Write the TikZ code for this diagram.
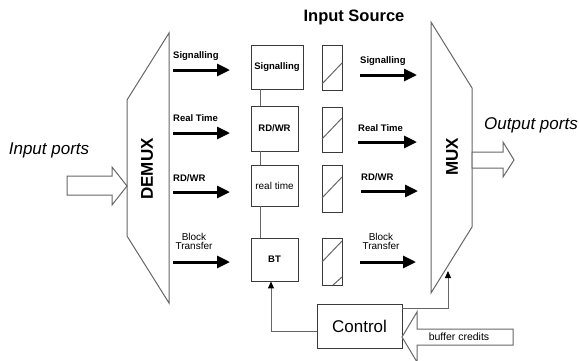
\documentclass[tikz,border=0pt]{standalone}
\usepackage{fontspec}
\setmainfont{Liberation Sans}
\usetikzlibrary{arrows.meta}
\definecolor{edgec}{HTML}{666666}
\definecolor{boxc}{HTML}{3A3A3A}
\tikzset{
  fat/.style={line width=3pt,-{Triangle[length=13pt,width=12pt]}},
  thin/.style={draw=edgec,line width=1pt,-{Triangle[length=7pt,width=6pt,color=black]}},
  link/.style={draw=edgec,line width=1pt},
  outline/.style={draw=edgec,line width=1pt,fill=white,line join=miter},
  unit/.style={draw=boxc,line width=0.9pt,fill=white,inner sep=0pt},
  qbox/.style={draw=boxc,line width=0.9pt,inner sep=0pt,minimum width=20pt},
  bold/.style={font=\fontsize{9.5}{11}\selectfont\bfseries,inner sep=0pt},
  plain/.style={font=\fontsize{10}{11}\selectfont,inner sep=0pt,align=center},
  big/.style={font=\fontsize{17}{19}\selectfont\bfseries,inner sep=0pt,rotate=90},
  port/.style={font=\fontsize{17}{19}\selectfont\itshape,inner sep=0pt},
}
\begin{document}
\begin{tikzpicture}[x=1pt,y=-1pt]
\useasboundingbox (0,0) rectangle (579,360);
\clip (0,0) rectangle (579,360);

% title
\node[font=\fontsize{16.5}{19}\selectfont\bfseries,inner sep=0pt] (title) at (354,17) {Input Source};

% demultiplexer and multiplexer bodies
\draw[outline] (127,100) -- (169,33) -- (169,303) -- (127,236) -- cycle;
\node[big] (demux) at (147,169) {DEMUX};
\draw[outline] (431,22) -- (472,88) -- (472,227) -- (431,293) -- cycle;
\node[big] (mux) at (452,157) {MUX};

% input and output ports (hollow arrows)
\draw[outline] (67,176) -- (112,176) -- (112,167) -- (127,186) -- (112,205) -- (112,195) -- (67,195) -- cycle;
\node[port] (inports) at (49,150) {Input ports};
\draw[outline] (472,152) -- (503,152) -- (503,142) -- (514,160) -- (503,177) -- (503,168) -- (472,168) -- cycle;
\node[port] (outports) at (531,125) {Output ports};

% queue units
\node[unit,minimum width=52pt,minimum height=44pt,bold] (sig) at (277,67) {Signalling};
\node[unit,minimum width=47pt,minimum height=45pt,bold] (rw) at (274.5,128.5) {RD/WR};
\node[unit,minimum width=47pt,minimum height=41pt,plain] (rt) at (274.5,185.5) {real time};
\node[unit,minimum width=47pt,minimum height=43pt,bold] (bt) at (274.5,259.5) {BT};
\coordinate (spine) at (260,0);
\draw[link] (sig.south -| spine) -- (rw.north -| spine);
\draw[link] (rw.south -| spine) -- (rt.north -| spine);
\draw[link] (rt.south -| spine) -- (bt.north -| spine);

% buffer boxes
\node[qbox,minimum height=45pt] (q1) at (332,67.5) {};
\node[qbox,minimum height=45pt] (q2) at (332,129.5) {};
\node[qbox,minimum height=47pt] (q3) at (332,188.5) {};
\node[qbox,minimum height=47pt] (q4) at (332,261.5) {};
\draw[link] (322,84) -- (342,63);
\draw[link] (322,139) -- (342,118);
\draw[link] (322,198) -- (342,177);
\draw[link] (322,262) -- (342,241);
\draw[link] (333,285) -- (342,277);

% classes leaving the demultiplexer
\node[bold,anchor=west] (l1) at (173,56) {Signalling};
\node[bold,anchor=west] (l2) at (173,118) {Real Time};
\node[bold,anchor=west] (l3) at (173,178) {RD/WR};
\node[plain] (l4) at (194,241.5) {Block\\[-1.5pt]Transfer};
\coordinate (a1s) at (173,70);  \coordinate (a1e) at (230,70);
\coordinate (a2s) at (173,133); \coordinate (a2e) at (230,133);
\coordinate (a3s) at (173,192); \coordinate (a3e) at (230,192);
\coordinate (a4s) at (173,262); \coordinate (a4e) at (230,262);
\draw[fat] (a1s) -- (a1e);
\draw[fat] (a2s) -- (a2e);
\draw[fat] (a3s) -- (a3e);
\draw[fat] (a4s) -- (a4e);

% classes entering the multiplexer
\node[bold,anchor=west] (r1) at (360,61) {Signalling};
\node[bold,anchor=west] (r2) at (358,128) {Real Time};
\node[bold,anchor=west] (r3) at (361,177) {RD/WR};
\node[plain] (r4) at (381,241.5) {Block\\[-1.5pt]Transfer};
\coordinate (b1s) at (360,75);  \coordinate (b1e) at (417,75);
\coordinate (b2s) at (358,142); \coordinate (b2e) at (417,142);
\coordinate (b3s) at (361,191); \coordinate (b3e) at (418,191);
\coordinate (b4s) at (360,262); \coordinate (b4e) at (416,262);
\draw[fat] (b1s) -- (b1e);
\draw[fat] (b2s) -- (b2e);
\draw[fat] (b3s) -- (b3e);
\draw[fat] (b4s) -- (b4e);

% control block
\node[unit,minimum width=85pt,minimum height=44pt,font=\fontsize{17}{19}\selectfont] (ctrl) at (359.5,326) {Control};
\draw[thin] ([yshift=-5pt]ctrl.west) -| ([xshift=-3.5pt]bt.south);
\coordinate (muxin) at (448,271);
\draw[thin] ([yshift=18pt]ctrl.east) -| (muxin);

% buffer credits (hollow arrow)
\draw[outline] (513,329) -- (417,329) -- (417,312) -- (402,337) -- (417,362) -- (417,345) -- (513,345) -- cycle;
\node[font=\fontsize{10.5}{12}\selectfont,inner sep=0pt] (credits) at (459,337) {buffer credits};
\end{tikzpicture}
\end{document}
